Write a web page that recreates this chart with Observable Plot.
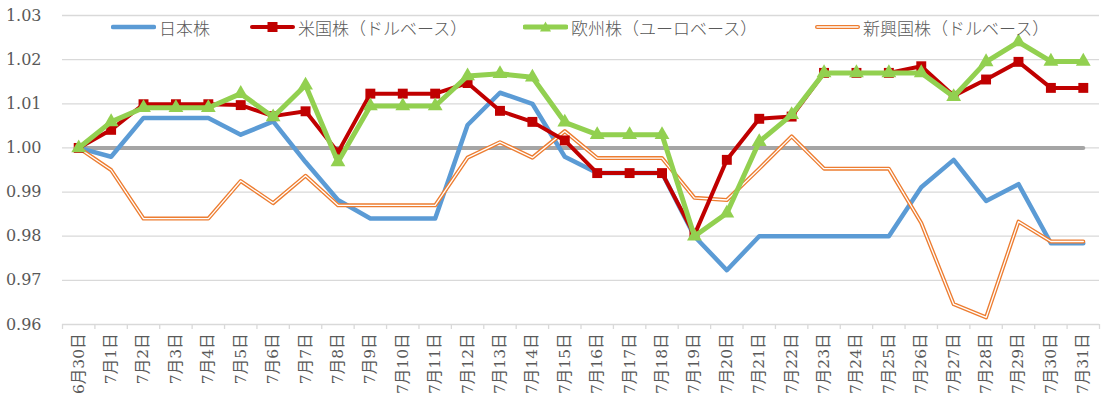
<!DOCTYPE html>
<html><head><meta charset="utf-8">
<script src="https://cdn.jsdelivr.net/npm/d3@7"></script>
<script src="https://cdn.jsdelivr.net/npm/@observablehq/plot@0.6"></script>
<style>
body{margin:0;background:#fff;}
#wrap{position:relative;width:1116px;height:409px;overflow:hidden;}
.leg{position:absolute;top:15px;height:24px;display:flex;align-items:center;font-family:"Noto Sans CJK JP",sans-serif;font-size:17px;font-weight:300;color:#595959;white-space:nowrap;}
.leg svg{margin-right:3px;}
</style></head><body><div id="wrap"></div>
<script>
const dates = ["6月30日","7月1日","7月2日","7月3日","7月4日","7月5日","7月6日","7月7日","7月8日","7月9日","7月10日","7月11日","7月12日","7月13日","7月14日","7月15日","7月16日","7月17日","7月18日","7月19日","7月20日","7月21日","7月22日","7月23日","7月24日","7月25日","7月26日","7月27日","7月28日","7月29日","7月30日","7月31日"];
const seriesNames = ["日本株","米国株（ドルベース）","欧州株（ユーロベース）","新興国株（ドルベース）"];
const japan = [1.000,0.998,1.0068,1.0068,1.0068,1.003,1.006,0.9968,0.9882,0.984,0.984,0.984,1.0052,1.0125,1.010,0.998,0.9943,0.9943,0.9943,0.980,0.9723,0.980,0.980,0.980,0.980,0.980,0.9911,0.9973,0.988,0.9918,0.9784,0.9784];
const us = [1.000,1.0041,1.0099,1.0099,1.0099,1.0097,1.0072,1.0083,0.999,1.0123,1.0123,1.0123,1.0147,1.0084,1.0059,1.0017,0.9943,0.9943,0.9943,0.9803,0.9973,1.0066,1.0071,1.0170,1.0170,1.0170,1.0185,1.0118,1.0155,1.0195,1.0136,1.0136];
const europe = [1.000,1.0059,1.0091,1.0091,1.0091,1.0123,1.007,1.0142,0.9968,1.0095,1.0095,1.0095,1.0163,1.0168,1.0160,1.0058,1.003,1.003,1.003,0.9800,0.9852,1.0014,1.0075,1.0170,1.0170,1.0170,1.0170,1.0116,1.0195,1.0240,1.0196,1.0196];
const emerging = [1.000,0.995,0.984,0.984,0.984,0.9925,0.9875,0.9937,0.987,0.987,0.987,0.987,0.9978,1.0013,0.9978,1.0038,0.9977,0.9977,0.9977,0.9887,0.9882,0.9953,1.0026,0.9953,0.9953,0.9953,0.983,0.9646,0.9616,0.9833,0.9788,0.9788];
const baseline = 1.00;
const yTicks = [0.96,0.97,0.98,0.99,1.00,1.01,1.02,1.03];

const colors = {japan:"#5b9bd5", us:"#c00000", europe:"#92d050", emerging:"#ed7d31", base:"#a5a5a5", grid:"#d9d9d9", text:"#595959"};
const n = dates.length;
const idx = d3.range(n);
const bounds = d3.range(n + 1).map(i => i - 0.5);
const lineOf = (arr, opts) => Plot.line(idx, {x: i => i, y: i => arr[i], ...opts});

const chart = Plot.plot({
  width: 1116, height: 409,
  marginLeft: 62, marginRight: 17, marginTop: 15, marginBottom: 85,
  style: {fontFamily: "'DejaVu Serif', 'Noto Sans CJK JP', serif", color: colors.text, background: "#fff"},
  x: {type: "linear", domain: [-0.5, n - 0.5]},
  y: {domain: [0.96, 1.03]},
  marks: [
    Plot.gridY(yTicks, {stroke: colors.grid, strokeOpacity: 1, strokeWidth: 1.3}),
    Plot.axisY(yTicks, {tickSize: 0, tickPadding: 21, tickFormat: d => d.toFixed(2), fontSize: 16, fill: colors.text, label: null}),
    Plot.axisX(bounds, {tickSize: 5, tickFormat: () => "", stroke: colors.grid, strokeWidth: 1.3, label: null}),
    Plot.axisX(idx, {tickSize: 0, tickPadding: 9, tickRotate: -90, tickFormat: i => dates[i], fontSize: 15.5, fill: colors.text, label: null}),
    Plot.line(idx, {x: i => i, y: () => baseline, stroke: colors.base, strokeWidth: 4}),
    lineOf(japan, {stroke: colors.japan, strokeWidth: 4.5}),
    lineOf(emerging, {stroke: colors.emerging, strokeWidth: 4}),
    lineOf(emerging, {stroke: "#fff", strokeWidth: 1.3}),
    lineOf(us, {stroke: colors.us, strokeWidth: 4}),
    Plot.dot(idx, {x: i => i, y: i => us[i], symbol: "square", r: 5.6, fill: colors.us, stroke: null}),
    lineOf(europe, {stroke: colors.europe, strokeWidth: 5}),
    Plot.dot(idx, {x: i => i, y: i => europe[i], symbol: "triangle", r: 5.5, fill: colors.europe, stroke: null})
  ]
});
const wrap = document.getElementById("wrap");
wrap.appendChild(chart);

const legendPos = [111, 250, 523, 815];
const swatches = [
  `<svg width="45" height="14"><line x1="2" y1="7" x2="43" y2="7" stroke="${colors.japan}" stroke-width="4.5" stroke-linecap="round"/></svg>`,
  `<svg width="45" height="14"><line x1="2" y1="7" x2="43" y2="7" stroke="${colors.us}" stroke-width="4" stroke-linecap="round"/><rect x="17.5" y="2" width="10" height="10" fill="${colors.us}"/></svg>`,
  `<svg width="45" height="14"><line x1="2" y1="7" x2="43" y2="7" stroke="${colors.europe}" stroke-width="5" stroke-linecap="round"/><path d="M22.5,1.5 L28,11.5 L17,11.5 Z" fill="${colors.europe}"/></svg>`,
  `<svg width="45" height="14"><line x1="2" y1="7" x2="43" y2="7" stroke="${colors.emerging}" stroke-width="4" stroke-linecap="round"/><line x1="2" y1="7" x2="43" y2="7" stroke="#fff" stroke-width="1.3" stroke-linecap="round"/></svg>`
];
seriesNames.forEach((name, k) => {
  const d = document.createElement("div");
  d.className = "leg";
  d.style.left = legendPos[k] + "px";
  d.innerHTML = swatches[k] + `<span>${name}</span>`;
  wrap.appendChild(d);
});
</script>
</body></html>
